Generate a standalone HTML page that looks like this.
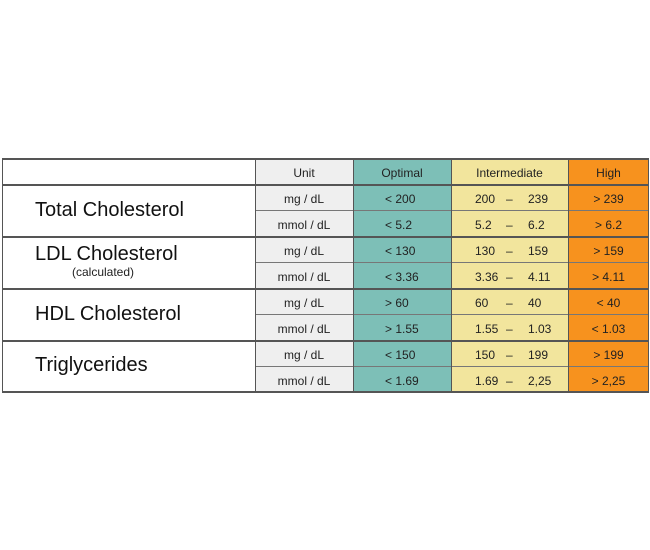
<!DOCTYPE html>
<html><head><style>
body{margin:0;width:650px;height:550px;background:#fff;position:relative;font-family:"Liberation Sans",sans-serif;color:#222;overflow:hidden}
.c{position:absolute;box-sizing:border-box;font-size:12px;line-height:26px;height:26px;margin-top:2px}
.ln{position:absolute;background:#555}
.big{position:absolute;font-size:20px;color:#111}
</style></head><body>
<div style="position:absolute;left:255px;top:158px;width:98px;height:234px;background:#efefef"></div>
<div style="position:absolute;left:353px;top:158px;width:98px;height:234px;background:#7dbfb7"></div>
<div style="position:absolute;left:451px;top:158px;width:117px;height:234px;background:#f2e59d"></div>
<div style="position:absolute;left:568px;top:158px;width:81px;height:234px;background:#f7921e"></div>
<div class="ln" style="left:2px;top:158px;width:647px;height:1.5px"></div>
<div class="ln" style="left:2px;top:184px;width:647px;height:1.5px"></div>
<div class="ln" style="left:255px;top:210px;width:394px;height:1px;background:#777"></div>
<div class="ln" style="left:2px;top:236px;width:647px;height:1.5px"></div>
<div class="ln" style="left:255px;top:262px;width:394px;height:1px;background:#777"></div>
<div class="ln" style="left:2px;top:288px;width:647px;height:1.5px"></div>
<div class="ln" style="left:255px;top:314px;width:394px;height:1px;background:#777"></div>
<div class="ln" style="left:2px;top:340px;width:647px;height:1.5px"></div>
<div class="ln" style="left:255px;top:366px;width:394px;height:1px;background:#777"></div>
<div class="ln" style="left:2px;top:391px;width:647px;height:1.5px"></div>
<div class="ln" style="left:2px;top:158px;width:1px;height:234px"></div>
<div class="ln" style="left:255px;top:158px;width:1px;height:234px"></div>
<div class="ln" style="left:353px;top:158px;width:1px;height:234px"></div>
<div class="ln" style="left:451px;top:158px;width:1px;height:234px"></div>
<div class="ln" style="left:568px;top:158px;width:1px;height:234px"></div>
<div class="ln" style="left:648px;top:158px;width:1px;height:234px"></div>
<div class="big" style="left:35px;top:199px">Total Cholesterol</div>
<div class="big" style="left:35px;top:243px">LDL Cholesterol</div>
<div style="position:absolute;left:72px;top:265px;font-size:12px">(calculated)</div>
<div class="big" style="left:35px;top:303px">HDL Cholesterol</div>
<div class="big" style="left:35px;top:354px">Triglycerides</div>
<div class="c" style="left:255px;top:158px;width:98px;text-align:center">Unit</div>
<div class="c" style="left:353px;top:158px;width:98px;text-align:center">Optimal</div>
<div class="c" style="left:451px;top:158px;width:117px;text-align:center">Intermediate</div>
<div class="c" style="left:568px;top:158px;width:81px;text-align:center">High</div>
<div id="rows"></div>
<script>
var d=[["mg / dL","< 200","200","239","> 239"],["mmol / dL","< 5.2","5.2","6.2","> 6.2"],["mg / dL","< 130","130","159","> 159"],["mmol / dL","< 3.36","3.36","4.11","> 4.11"],["mg / dL","> 60","60","40","< 40"],["mmol / dL","> 1.55","1.55","1.03","< 1.03"],["mg / dL","< 150","150","199","> 199"],["mmol / dL","< 1.69","1.69","2,25","> 2,25"]];
var h="";d.forEach(function(r,i){var t=184+i*26;
h+='<div class="c" style="left:255px;top:'+t+'px;width:98px;text-align:center">'+r[0]+'</div>';
h+='<div class="c" style="left:385px;top:'+t+'px">'+r[1].replace("<","&lt;").replace(">","&gt;")+'</div>';
h+='<div class="c" style="left:475px;top:'+t+'px">'+r[2]+'</div>';
h+='<div class="c" style="left:506px;top:'+t+'px">–</div>';
h+='<div class="c" style="left:528px;top:'+t+'px">'+r[3]+'</div>';
h+='<div class="c" style="left:568px;top:'+t+'px;width:81px;text-align:center">'+r[4].replace("<","&lt;").replace(">","&gt;")+'</div>';});
document.getElementById("rows").innerHTML=h;
</script>
</body></html>
